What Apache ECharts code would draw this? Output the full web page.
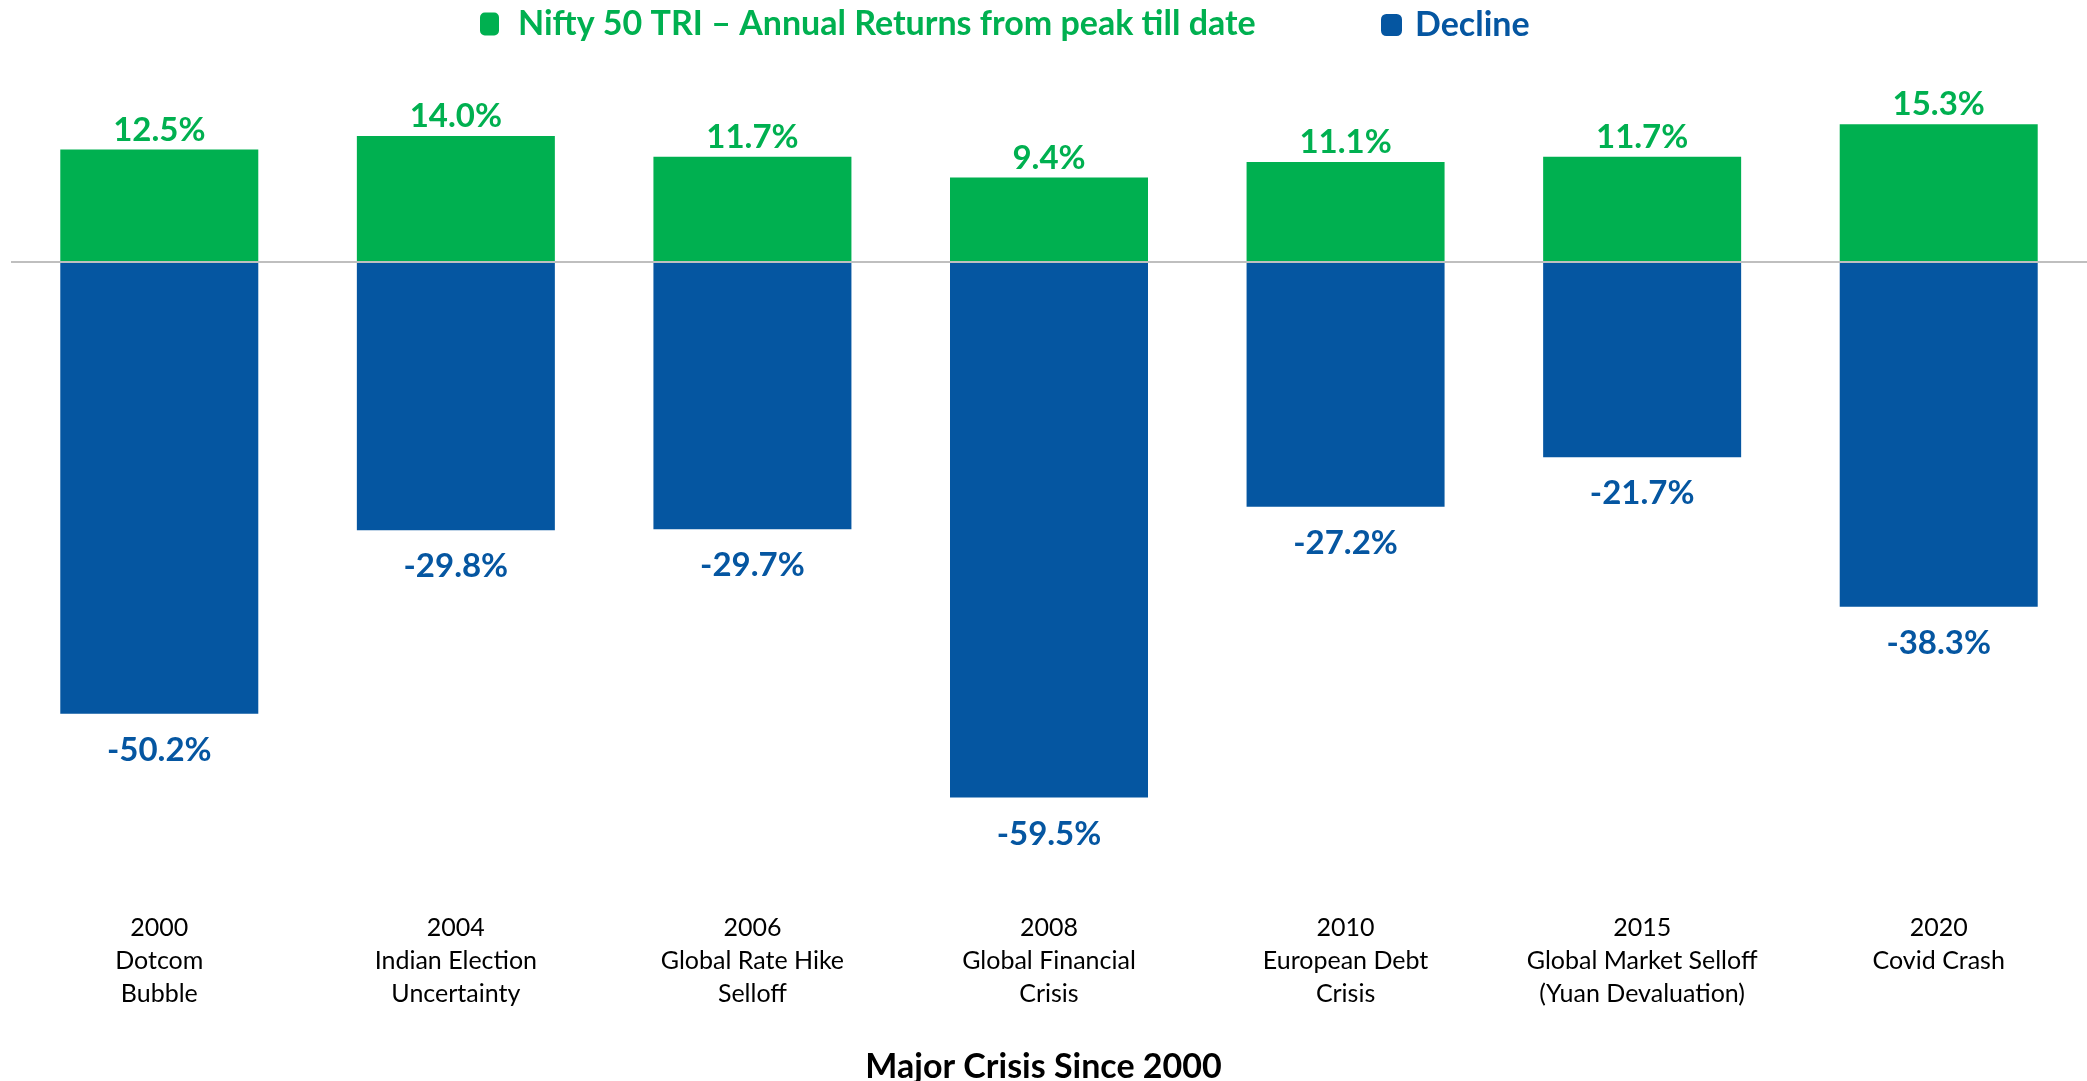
<!DOCTYPE html>
<html>
<head>
<meta charset="utf-8">
<script src="https://cdn.jsdelivr.net/npm/echarts@6/dist/echarts.min.js"></script>
<style>
html,body{margin:0;padding:0;background:#fff;}
#chart{width:2087px;height:1081px;}
</style>
</head>
<body>
<div id="chart"></div>
<script>
const categories = [
  "2000\nDotcom\nBubble",
  "2004\nIndian Election\nUncertainty",
  "2006\nGlobal Rate Hike\nSelloff",
  "2008\nGlobal Financial\nCrisis",
  "2010\nEuropean Debt\nCrisis",
  "2015\nGlobal Market Selloff\n(Yuan Devaluation)",
  "2020\nCovid Crash"
];
const returnsName = "Nifty 50 TRI – Annual Returns from peak till date";
const declineName = "Decline";
const annualReturns = [12.5, 14.0, 11.7, 9.4, 11.1, 11.7, 15.3];
const declines = [-50.2, -29.8, -29.7, -59.5, -27.2, -21.7, -38.3];
const axisTitle = "Major Crisis Since 2000";

const GREEN = "#00B050";
const BLUE = "#0556A1";
const FONT = "Lato";

const chart = echarts.init(document.getElementById('chart'), null, {renderer: 'canvas'});
chart.setOption({
  backgroundColor: '#ffffff',
  animation: false,
  title: {
    text: axisTitle,
    left: 'center',
    top: 1045,
    textStyle: {fontFamily: FONT, fontSize: 34, fontWeight: 'bold', color: '#000'}
  },
  legend: [
    {
      data: [returnsName],
      left: 475, top: 2,
      itemWidth: 19, itemHeight: 23,
      icon: 'roundRect',
      textStyle: {fontFamily: FONT, fontSize: 34, fontWeight: 'bold', color: GREEN, padding: [0,0,0,14]}
    },
    {
      data: [declineName],
      left: 1376, top: 3,
      itemWidth: 21, itemHeight: 22,
      icon: 'roundRect',
      textStyle: {fontFamily: FONT, fontSize: 34, fontWeight: 'bold', color: BLUE, padding: [0,0,0,8]}
    }
  ],
  grid: {left: 11, width: 2085, top: 82, bottom: 1081 - 892, containLabel: false},
  xAxis: {
    type: 'category',
    data: categories,
    axisLine: {show: false},
    axisTick: {show: false},
    axisLabel: {
      interval: 0,
      margin: 19,
      fontFamily: FONT, fontSize: 25, color: '#000', lineHeight: 33
    }
  },
  yAxis: {
    type: 'value',
    min: -70, max: 20,
    show: false,
    splitLine: {show: false}
  },
  series: [
    {
      name: returnsName,
      type: 'bar',
      stack: 'total',
      barWidth: 198,
      data: annualReturns,
      itemStyle: {color: GREEN},
      label: {
        show: true, position: 'top', distance: 3,
        formatter: p => p.value.toFixed(1) + '%',
        fontFamily: FONT, fontSize: 33, fontWeight: 'bold', color: GREEN
      },
      markLine: {
        silent: true,
        symbol: ['none', 'none'],
        label: {show: false},
        lineStyle: {color: '#bfbfbf', width: 2, type: 'solid'},
        data: [{yAxis: 0}]
      }
    },
    {
      name: declineName,
      type: 'bar',
      stack: 'total',
      barWidth: 198,
      data: declines,
      itemStyle: {color: BLUE},
      label: {
        show: true, position: 'bottom', distance: 20,
        formatter: p => p.value.toFixed(1) + '%',
        fontFamily: FONT, fontSize: 33, fontWeight: 'bold', color: BLUE
      }
    }
  ]
});
</script>
</body>
</html>
